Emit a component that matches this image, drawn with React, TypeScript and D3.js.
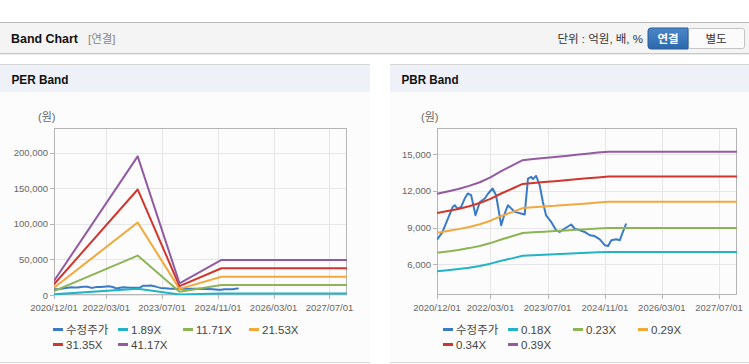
import React from 'react';
import * as d3 from 'd3';

// ---------- data ----------
const xDomainDates = ['2020-12-01', '2027-12-01'];
const xTickDates = ['2020-12-01', '2022-03-01', '2023-07-01', '2024-11-01', '2026-03-01', '2027-07-01'];
const xTickLabels = ['2020/12/01', '2022/03/01', '2023/07/01', '2024/11/01', '2026/03/01', '2027/07/01'];

const priceDates = [
  '2020-12-01', '2021-01-15', '2021-04-15', '2021-05-01', '2021-05-25', '2021-06-25', '2021-07-25',
  '2021-08-20', '2021-09-18', '2021-10-25', '2021-12-01', '2022-01-12', '2022-02-10', '2022-03-20',
  '2022-04-18', '2022-05-03', '2022-06-01', '2022-07-01', '2022-07-28', '2022-09-25', '2022-12-18',
  '2023-01-15', '2023-02-12', '2023-02-27', '2023-03-25', '2023-04-25', '2023-05-22', '2023-06-18',
  '2023-08-01', '2023-09-12', '2023-10-12', '2023-11-25', '2024-01-18', '2024-02-18', '2024-04-01',
  '2024-05-12', '2024-06-25', '2024-08-05', '2024-09-18', '2024-11-01', '2024-11-28', '2024-12-25',
  '2025-02-05', '2025-03-07', '2025-04-03', '2025-05-01',
];
const priceValues = [
  8000, 8600, 10700, 10820, 10550, 10680, 11370,
  11780, 11640, 10000, 11090, 11370, 11780, 12190,
  11640, 10820, 9190, 10140, 10820, 10280, 10060,
  13000, 13140, 12950, 13220, 12460, 11090, 10000,
  9460, 8780, 8640, 8920, 9250, 8900, 8780,
  8640, 8370, 8300, 8040, 7550, 7500, 7960,
  8040, 7960, 8640, 9330,
];

const perDates = ['2020-12-01', '2022-12-01', '2023-12-01', '2024-12-01', '2027-12-01'];
const per189 = [900, 8950, 760, 2270, 2270];
const per1171 = [5600, 55500, 4700, 14050, 14050];
const per2153 = [10300, 102000, 8600, 25800, 25800];
const per3135 = [15000, 148500, 12500, 37600, 37600];
const per4117 = [19800, 195000, 16500, 49400, 49400];
const perLabels = ['수정주가', '1.89X', '11.71X', '21.53X', '31.35X', '41.17X'];
const perYTicks = [0, 50000, 100000, 150000, 200000];

const pbrDates = [
  '2020-12-01', '2021-03-01', '2021-06-01', '2021-09-01', '2021-12-01', '2022-03-01', '2022-06-01',
  '2022-09-01', '2022-12-01', '2023-03-01', '2023-06-01', '2023-09-01', '2023-12-01', '2024-03-01',
  '2024-06-01', '2024-09-01', '2024-12-01', '2027-12-01',
];
const pbr018 = [5420, 5510, 5610, 5720, 5860, 6050, 6280, 6480, 6690, 6740, 6770, 6810, 6850, 6890, 6940, 6980, 7010, 7010];
const pbr023 = [6930, 7050, 7170, 7320, 7490, 7730, 8020, 8290, 8560, 8610, 8660, 8710, 8760, 8810, 8870, 8920, 8970, 8970];
const pbr029 = [8580, 8720, 8870, 9050, 9270, 9560, 9930, 10260, 10590, 10660, 10720, 10770, 10840, 10910, 10970, 11040, 11100, 11100];
const pbr034 = [10180, 10350, 10520, 10740, 11000, 11340, 11780, 12170, 12560, 12640, 12710, 12780, 12860, 12940, 13020, 13090, 13160, 13160];
const pbr039 = [11750, 11950, 12150, 12400, 12700, 13100, 13600, 14050, 14500, 14600, 14680, 14760, 14850, 14940, 15030, 15120, 15200, 15200];
const pbrLabels = ['수정주가', '0.18X', '0.23X', '0.29X', '0.34X', '0.39X'];
const pbrYTicks = [6000, 9000, 12000, 15000];

const seriesColors = ['#3b7bc6', '#22b3c6', '#8db455', '#f2a83a', '#d0362c', '#925aa0'];

const FONT = '"Liberation Sans", Arial, "Noto Sans CJK KR", sans-serif';

type Series = { dates: string[]; values: number[] };

function Chart(props: {
  left: number; top: number; width: number; height: number;
  yDomain: [number, number]; yTicks: number[]; series: Series[]; labels: string[];
  legendX: number[]; id: string; unitX: number;
}) {
  const { left, top, width, height, yDomain, yTicks, series, labels, legendX, id, unitX } = props;
  const parse = d3.timeParse('%Y-%m-%d');
  const x = d3.scaleTime().domain(xDomainDates.map((d) => parse(d) as Date)).range([left, left + width]);
  const y = d3.scaleLinear().domain(yDomain).range([top + height, top]);
  const fmt = d3.format(',');
  const line = d3.line<[Date, number]>().x((d) => x(d[0])).y((d) => y(d[1]));
  const bottom = top + height;
  const legendRows = [329.5, 344.5];
  return (
    <g>
      <defs>
        <clipPath id={id}>
          <rect x={left} y={top} width={width} height={height} />
        </clipPath>
      </defs>
      <text x={unitX} y={top - 7} fontSize={11} fill="#666" fontFamily={FONT}>(원)</text>
      {yTicks.map((t) => (
        <line key={'gy' + t} x1={left} x2={left + width} y1={Math.round(y(t)) + 0.5} y2={Math.round(y(t)) + 0.5} stroke="#e6e6e6" />
      ))}
      {xTickDates.map((t) => {
        const xx = Math.round(x(parse(t) as Date)) + 0.5;
        return <line key={'gx' + t} x1={xx} x2={xx} y1={top} y2={bottom} stroke="#e6e6e6" />;
      })}
      <rect x={left + 0.5} y={top + 0.5} width={width - 1} height={height - 1} fill="none" stroke="#b4b4b4" />
      {yTicks.map((t) => (
        <g key={'ty' + t}>
          <line x1={left - 4} x2={left} y1={Math.round(y(t)) + 0.5} y2={Math.round(y(t)) + 0.5} stroke="#b4b4b4" />
          <text x={left - 6} y={y(t) + 3.5} textAnchor="end" fontSize={9.5} fill="#666" fontFamily={FONT}>{fmt(t)}</text>
        </g>
      ))}
      {xTickDates.map((t, i) => {
        const xx = x(parse(t) as Date);
        return (
          <g key={'tx' + t}>
            <line x1={Math.round(xx) + 0.5} x2={Math.round(xx) + 0.5} y1={bottom} y2={bottom + 4} stroke="#b4b4b4" />
            <text x={xx} y={bottom + 16} textAnchor="middle" fontSize={9.5} fill="#666" fontFamily={FONT}>{xTickLabels[i]}</text>
          </g>
        );
      })}
      <g clipPath={`url(#${id})`}>
        {series.map((s, i) => (
          <path key={'s' + i}
            d={line(s.dates.map((d, j) => [parse(d) as Date, s.values[j]] as [Date, number])) || ''}
            fill="none" stroke={seriesColors[i]} strokeWidth={2} strokeLinejoin="round" />
        ))}
      </g>
      {labels.map((lab, i) => {
        const row = i < 4 ? 0 : 1;
        const col = i < 4 ? i : i - 4;
        const lx = legendX[col];
        const ly = legendRows[row];
        return (
          <g key={'lg' + i}>
            <line x1={lx} x2={lx + 10} y1={ly} y2={ly} stroke={seriesColors[i]} strokeWidth={3} />
            <text x={lx + 13} y={ly + 4} fontSize={11.5} fill="#444" fontFamily={FONT}>{lab}</text>
          </g>
        );
      })}
    </g>
  );
}

export default function App() {
  const perSeries: Series[] = [
    { dates: priceDates, values: priceValues },
    { dates: perDates, values: per189 },
    { dates: perDates, values: per1171 },
    { dates: perDates, values: per2153 },
    { dates: perDates, values: per3135 },
    { dates: perDates, values: per4117 },
  ];
  const pbrSeries: Series[] = [
    { dates: priceDates, values: priceValues },
    { dates: pbrDates, values: pbr018 },
    { dates: pbrDates, values: pbr023 },
    { dates: pbrDates, values: pbr029 },
    { dates: pbrDates, values: pbr034 },
    { dates: pbrDates, values: pbr039 },
  ];
  return (
    <div style={{ position: 'absolute', left: 0, top: 0, width: 749, height: 364, background: '#fff' }}>
      <svg width={749} height={364} style={{ display: 'block' }}>
        <defs>
          <linearGradient id="btn" x1="0" x2="0" y1="0" y2="1">
            <stop offset="0" stopColor="#4a86c8" />
            <stop offset="1" stopColor="#2d68ad" />
          </linearGradient>
        </defs>
        <rect x={0} y={0} width={749} height={364} fill="#fff" />
        {/* top header */}
        <rect x={0} y={22} width={749} height={31} fill="#f4f4f4" />
        <line x1={0} x2={749} y1={22.5} y2={22.5} stroke="#b9b9b9" />
        <line x1={0} x2={749} y1={53.5} y2={53.5} stroke="#c8c8c8" />
        <line x1={0} x2={749} y1={54.5} y2={54.5} stroke="#ececec" />
        <text x={11} y={43} fontSize={13} fontWeight="bold" fill="#111" fontFamily={FONT} textLength={67} lengthAdjust="spacingAndGlyphs">Band Chart</text>
        <text x={88} y={43} fontSize={11.5} fill="#888" fontFamily={FONT}>[연결]</text>
        <text x={643} y={43} fontSize={11.5} fill="#333" fontFamily={FONT} textAnchor="end">단위 : 억원, 배, %</text>
        <rect x={688.5} y={28.5} width={56} height={20} fill="#fbfbfb" stroke="#c4c4c4" rx={2} />
        <path d="M651,28 H688 V49 H651 Q648,49 648,46 V31 Q648,28 651,28 Z" fill="url(#btn)" stroke="#2a5f9e" />
        <text x={668} y={43} fontSize={11.5} fontWeight="bold" fill="#fff" textAnchor="middle" fontFamily={FONT}>연결</text>
        <text x={716} y={43} fontSize={11.5} fill="#333" textAnchor="middle" fontFamily={FONT}>별도</text>

        {/* panels */}
        {[{ x: 0, w: 370, title: 'PER Band' }, { x: 390, w: 359, title: 'PBR Band' }].map((p) => (
          <g key={p.title}>
            <rect x={p.x} y={64} width={p.w} height={299} fill="#fcfcfc" />
            <rect x={p.x} y={64} width={p.w} height={28} fill="#eef2f8" />
            <line x1={p.x} x2={p.x + p.w} y1={64.5} y2={64.5} stroke="#d6d6d6" />
            <line x1={p.x} x2={p.x + p.w} y1={362.5} y2={362.5} stroke="#d6d6d6" />
            <text x={p.x + 11.5} y={84} fontSize={13} fontWeight="bold" fill="#111" fontFamily={FONT} textLength={57} lengthAdjust="spacingAndGlyphs">{p.title}</text>
          </g>
        ))}

        <Chart id="clipPer" left={54} top={128} width={293} height={167}
          yDomain={[0, 235000]} yTicks={perYTicks} series={perSeries} labels={perLabels}
          legendX={[53, 118, 183, 249]} unitX={38} />
        <Chart id="clipPbr" left={437} top={128} width={300} height={167}
          yDomain={[3490, 17130]} yTicks={pbrYTicks} series={pbrSeries} labels={pbrLabels}
          legendX={[443, 508, 573, 638]} unitX={421} />
      </svg>
    </div>
  );
}
